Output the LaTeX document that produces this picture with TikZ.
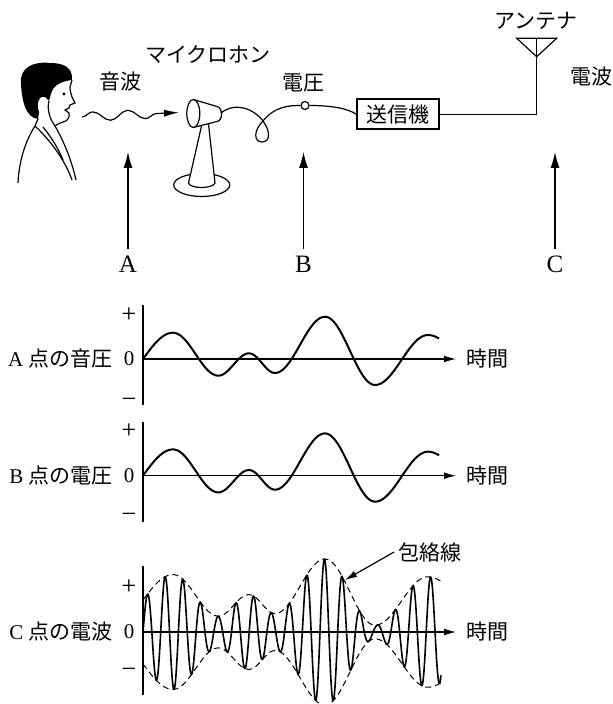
\documentclass[tikz,border=0pt]{standalone}
\usepackage{fontspec}
\setmainfont{Liberation Serif}
\newfontfamily\jp{Noto Sans CJK JP}
\usetikzlibrary{arrows.meta}
\usetikzlibrary{decorations.pathmorphing}

\tikzset{
  declare function={
    seg(\t,\xa,\ya,\xb,\yb) = \ya+(\yb-\ya)*(1-cos(180/(\xb-\xa)*(\t-\xa)))/2;
    sig(\t) = ifthenelse(\t<30,    seg(\t,-30,-26.3,30,26.3),
              ifthenelse(\t<75.3,  seg(\t,30,26.3,75.3,-16.7),
              ifthenelse(\t<106,   seg(\t,75.3,-16.7,106,5.7),
              ifthenelse(\t<132,   seg(\t,106,5.7,132,-14),
              ifthenelse(\t<182,   seg(\t,132,-14,182,42.3),
              ifthenelse(\t<232,   seg(\t,182,42.3,232,-26),
              ifthenelse(\t<285,   seg(\t,232,-26,285,24),
                                   seg(\t,285,24,345,-20))))))));
    envl(\t) = 32+0.97*sig(\t);
  },
  thinline/.style={line width=0.6pt},
  axis/.style={line width=0.55pt},
  timeaxis/.style={line width=0.55pt, -{Latex[length=6pt,width=3.4pt]}},
  wave/.style={line width=1pt, line join=round},
  upar/.style={line width=0.55pt, -{Latex[length=8pt,width=4.5pt]}},
  bigtxt/.style={font=\fontsize{12.5}{14}\selectfont},
  sgn/.style={font=\fontsize{13}{14}\selectfont, inner sep=0pt},
}

\begin{document}
\begin{tikzpicture}[x=0.5pt, y=-0.5pt, font=\fontsize{10.5}{12}\selectfont]
\fill[white] (0,0) rectangle (613,704);
\useasboundingbox (0,0) rectangle (613,704);

% speaker
\begin{scope}[thinline]
  \fill (21,84) .. controls (19,68) and (33,61) .. (50,63)
        .. controls (63,63) and (73,67) .. (72,80)
        .. controls (64,81) and (57,83) .. (53,89)
        .. controls (51,93) and (50,97) .. (49,101)
        -- (45,97) .. controls (39,95) and (36,104) .. (39,112)
        -- (38,119) .. controls (27,118) and (22,104) .. (21,84) -- cycle;
  \draw (72,80) -- (70,87) .. controls (70,91) and (71,94) .. (72,97)
        -- (75,103) -- (70,105) -- (69,108) -- (65,110) -- (69,113)
        .. controls (70,117) and (68,121) .. (63,122)
        .. controls (60,123) and (57,124) .. (55,126);
  \draw (49,101) .. controls (47,108) and (49,118) .. (55,126);
  \fill (64,94) circle (1.6);
  \draw (38,119) -- (35,126) .. controls (26,140) and (19,160) .. (18,183);
  \draw (35,126) .. controls (50,140) and (65,160) .. (72,180);
  \draw (43,127) .. controls (52,138) and (59,150) .. (63,160);
  \draw (55,126) .. controls (63,140) and (71,158) .. (76,180);
\end{scope}

\coordinate (mouth) at (82,117);
\coordinate (sndend) at (179,112.5);
\draw[thinline, -{Latex[length=7.5pt,width=3.6pt]}, decorate,
      decoration={snake, amplitude=2.3pt, segment length=17.5pt, post length=11pt}]
  (mouth) -- (sndend);
\node (sndlbl) at (120,82) {\jp 音波};

% microphone
\begin{scope}[thinline]
  \draw (201.7,185) ellipse [x radius=28, y radius=11.5];
  \draw[fill=white] (201.5,126) -- (188.5,183) .. controls (190,189) and (213,189) .. (215,183) -- (208.5,124);
  \draw[fill=white] (193.3,99.5) -- (217,106.5) .. controls (223,107.5) and (223,121) .. (217,121.5) -- (193.3,127.5);
  \draw[fill=white] (193.3,113.5) ellipse [x radius=6.5, y radius=14];
\end{scope}
\node (miclbl) at (208,55) {\jp マイクロホン};

% cable, transmitter, antenna
\node[draw, line width=0.9pt, minimum width=41pt, minimum height=15pt, inner sep=1pt] (tx) at (398.3,114.3) {\jp 送信機};
\node[draw, thinline, fill=white, circle, minimum size=4pt, inner sep=0pt] (vpt) at (305,105.5) {};
\draw[thinline] (221,113) .. controls (235,102) and (253,108) .. (263,121)
      .. controls (271,132) and (270,142) .. (262,142)
      .. controls (254,142) and (253,131) .. (263,121)
      .. controls (275,106) and (290,105.5) .. (vpt.west);
\draw[thinline] (vpt.east) .. controls (330,105.5) and (347,108) .. (tx.west);
\node (vlbl) at (303,83) {\jp 電圧};

\coordinate (ant) at (536.7,56.7);
\draw[thinline] (tx.east) -| (ant);
\draw[thinline] (516.7,38.3) -- (556.7,38.3) -- (ant) -- cycle;
\draw[thinline] (536.7,38.3) -- (ant);
\node (antlbl) at (536,20.5) {\jp アンテナ};
\node (radlbl) at (591.7,77) {\jp 電波};

% observation points
\node[bigtxt] (ptA) at (128,264) {A};
\node[bigtxt] (ptB) at (303.5,264) {B};
\node[bigtxt] (ptC) at (555,264) {C};
\coordinate (tipA) at (128,152);
\coordinate (tipB) at (303.5,152);
\coordinate (tipC) at (555,152);
\draw[upar] (ptA) -- (tipA);
\draw[upar] (ptB) -- (tipB);
\draw[upar] (ptC) -- (tipC);

% sound pressure at A
\begin{scope}[shift={(143,359)}]
  \draw[axis] (0,-54) -- (0,46);
  \draw[timeaxis] (0,0) -- (313,0);
  \node[sgn] (plusA) at (-14,-44) {+};
  \node (zeroA) at (-14,0) {0};
  \node[sgn] (minusA) at (-14,44) {−};
  \node[anchor=east, inner sep=0pt] (nameA) at (-30,0) {A \jp 点の音圧};
  \node (timeA) at (344,0) {\jp 時間};
  \draw[wave] plot[domain=0:296, samples=150, smooth] (\x,{-sig(\x)});
\end{scope}

% voltage at B
\begin{scope}[shift={(143,475.7)}]
  \draw[axis] (0,-54) -- (0,46);
  \draw[timeaxis] (0,0) -- (313,0);
  \node[sgn] (plusB) at (-14,-45) {+};
  \node (zeroB) at (-14,0) {0};
  \node[sgn] (minusB) at (-14,42) {−};
  \node[anchor=east, inner sep=0pt] (nameB) at (-30,0) {B \jp 点の電圧};
  \node (timeB) at (344,0) {\jp 時間};
  \draw[wave] plot[domain=0:296, samples=150, smooth] (\x,{-sig(\x)});
\end{scope}

% radio wave at C
\begin{scope}[shift={(143,632)}]
  \draw[axis] (0,-66) -- (0,63);
  \draw[timeaxis] (0,0) -- (313,0);
  \node[sgn] (plusC) at (-14,-45) {+};
  \node (zeroC) at (-14,0) {0};
  \node[sgn] (minusC) at (-14,41) {−};
  \node[anchor=east, inner sep=0pt] (nameC) at (-30,0) {C \jp 点の電波};
  \node (timeC) at (344,0) {\jp 時間};
  \draw[line width=0.5pt, dash pattern=on 3pt off 2pt]
    plot[domain=0:298, samples=80, smooth] (\x,{-envl(\x)});
  \draw[line width=0.5pt, dash pattern=on 3pt off 2pt]
    plot[domain=0:298, samples=80, smooth] (\x,{envl(\x)});
  \draw[line width=0.8pt, line join=round]
    plot[domain=0:298, samples=420, smooth] (\x,{-envl(\x)*sin(20.339*\x)});
  \node[inner sep=2pt] (envlbl) at (287,-80) {\jp 包絡線};
  \coordinate (envpt) at (202,-52);
  \draw[thinline, -{Latex[length=6pt,width=3.4pt]}] (envlbl.west) -- (envpt);
\end{scope}

\end{tikzpicture}
\end{document}
